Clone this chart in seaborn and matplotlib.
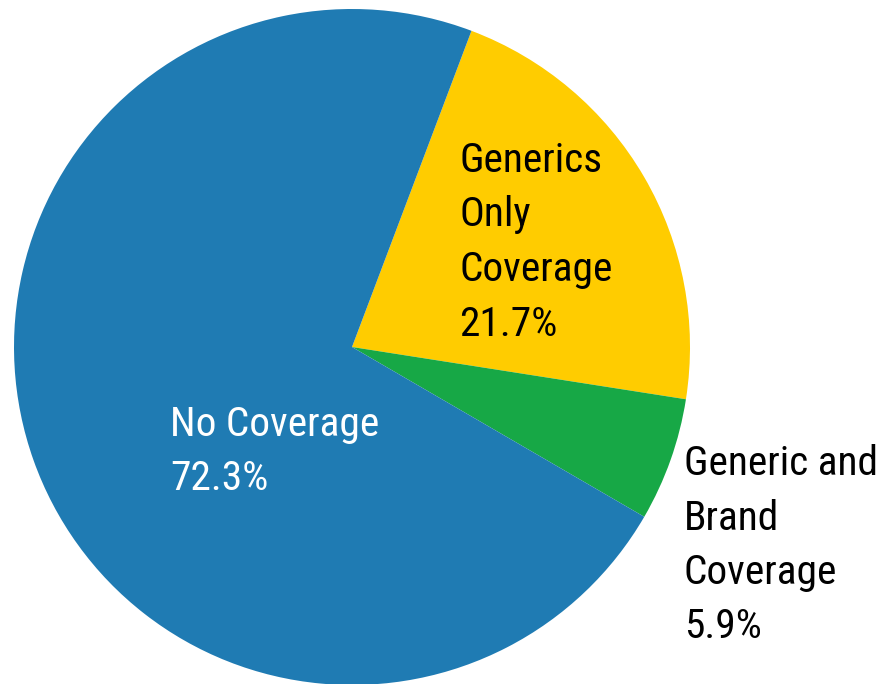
import matplotlib
matplotlib.use("Agg")
import matplotlib.pyplot as plt
from matplotlib import font_manager
import seaborn as sns

# Coverage shares (percent), drawn clockwise from the top-right
categories = ["Generics\nOnly\nCoverage", "Generic and\nBrand\nCoverage", "No Coverage"]
shares = [21.7, 5.9, 72.3]
slice_colors = ["#FFCC00", "#17A846", "#1F7BB3"]
text_colors = ["black", "black", "white"]

sns.set_theme(style="white")
installed = {f.name for f in font_manager.fontManager.ttflist}
family = "Roboto Condensed" if "Roboto Condensed" in installed else "Liberation Sans"
plt.rcParams["font.family"] = [family, "DejaVu Sans"]

palette = sns.color_palette(slice_colors)

fig = plt.figure(figsize=(8.88, 6.84), dpi=100)
W, H = 888, 684
cx, cy, r = 352, 347, 338
ax = fig.add_axes([(cx - r) / W, (H - cy - r) / H, 2 * r / W, 2 * r / H])

ax.pie(shares, colors=palette, startangle=69.3, counterclock=False,
       wedgeprops=dict(linewidth=0))
ax.set_xlim(-1, 1)
ax.set_ylim(-1, 1)
ax.set_aspect("equal")
ax.axis("off")

# label anchors (top-left of each text block, in pixels from the top-left)
anchors = [(459, 141), (684, 444), (170, 405)]
for name, val, col, (px, py) in zip(categories, shares, text_colors, anchors):
    ax.text((px - cx) / r, (cy - py) / r, f"{name}\n{val:.1f}%",
            ha="left", va="top", fontsize=29.8, color=col,
            linespacing=1.5, clip_on=False)

fig.savefig("out.png", dpi=100)
